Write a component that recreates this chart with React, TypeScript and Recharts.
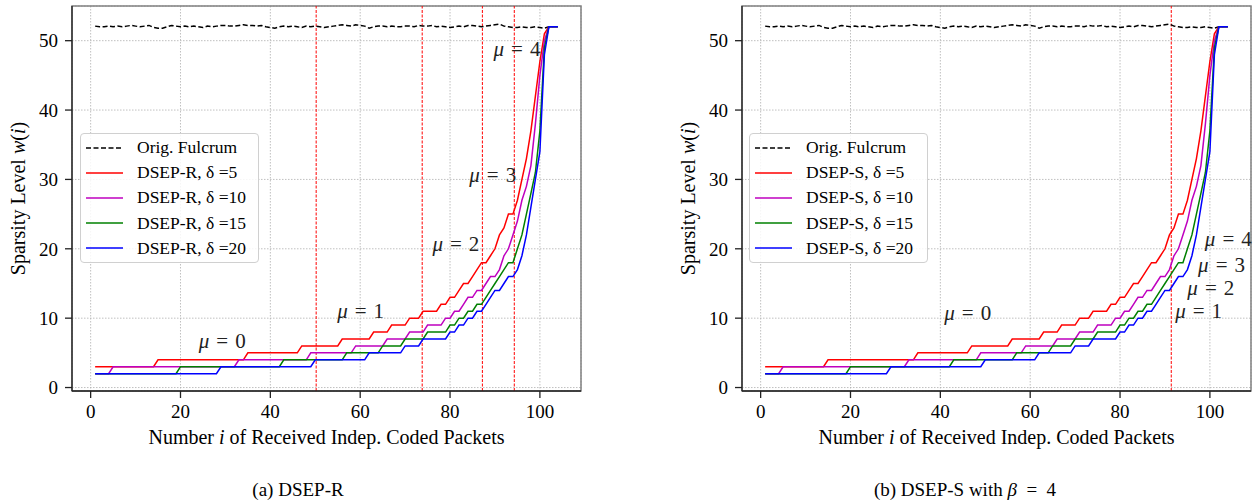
import React from 'react'
import {
  LineChart, Line, XAxis, YAxis, CartesianGrid, ReferenceLine, ReferenceArea,
  ReferenceDot, Legend, Label,
} from 'recharts'

const FONT = '"Liberation Serif", "Times New Roman", Times, serif'

// packet index i
const packets = [
  1, 2, 3, 4, 5, 6, 7, 8, 9, 10, 11, 12, 13, 14, 15, 16, 17, 18, 19, 20,
  21, 22, 23, 24, 25, 26, 27, 28, 29, 30, 31, 32, 33, 34, 35, 36, 37, 38, 39, 40,
  41, 42, 43, 44, 45, 46, 47, 48, 49, 50, 51, 52, 53, 54, 55, 56, 57, 58, 59, 60,
  61, 62, 63, 64, 65, 66, 67, 68, 69, 70, 71, 72, 73, 74, 75, 76, 77, 78, 79, 80,
  81, 82, 83, 84, 85, 86, 87, 88, 89, 90, 91, 92, 93, 94, 95, 96, 97, 98, 99, 100,
  101, 102, 103, 104,
]

// original fulcrum, sparsity stays near 52
const fulcrum = [
  52.1, 52.0, 52.0, 52.1, 52.0, 52.1, 52.0, 52.1, 52.2, 52.1,
  52.0, 52.1, 52.2, 51.9, 51.8, 51.8, 52.0, 52.2, 52.1, 52.0,
  52.1, 52.0, 52.1, 52.0, 51.9, 52.1, 52.0, 52.1, 52.2, 52.2,
  52.1, 52.1, 52.2, 52.3, 52.2, 52.2, 52.1, 52.2, 52.0, 51.9,
  51.8, 52.0, 52.1, 52.0, 52.1, 52.0, 51.9, 52.1, 52.0, 52.1,
  52.0, 51.9, 52.0, 52.1, 52.2, 52.3, 52.2, 52.1, 52.3, 52.2,
  52.1, 51.8, 52.0, 52.1, 52.1, 52.0, 52.1, 52.0, 52.0, 52.1,
  52.1, 52.0, 52.2, 52.1, 52.1, 52.2, 52.0, 52.1, 52.0, 51.9,
  52.0, 52.1, 52.0, 52.2, 52.2, 52.1, 52.0, 52.1, 52.2, 52.3,
  52.4, 52.1, 52.0, 51.9, 51.9, 52.0, 51.9, 51.9, 52.0, 51.9,
  51.8, 52.0, 52.0,
]

const delta5 = [
  3, 3, 3, 3, 3, 3, 3, 3, 3, 3,
  3, 3, 3, 3, 4, 4, 4, 4, 4, 4,
  4, 4, 4, 4, 4, 4, 4, 4, 4, 4,
  4, 4, 4, 4, 5, 5, 5, 5, 5, 5,
  5, 5, 5, 5, 5, 5, 6, 6, 6, 6,
  6, 6, 6, 6, 6, 7, 7, 7, 7, 7,
  7, 7, 8, 8, 8, 8, 9, 9, 9, 9,
  10, 10, 10, 11, 11, 11, 11, 12, 12, 13,
  13, 14, 15, 15, 16, 17, 18, 18, 19, 20,
  22, 23, 25, 25, 27, 30, 33, 37, 42, 47,
  51, 52, 52, 52,
]

const delta10 = [
  2, 2, 2, 2, 3, 3, 3, 3, 3, 3,
  3, 3, 3, 3, 3, 3, 3, 3, 3, 3,
  3, 3, 3, 3, 3, 3, 3, 3, 3, 3,
  3, 3, 4, 4, 4, 4, 4, 4, 4, 4,
  4, 4, 4, 4, 4, 4, 4, 4, 5, 5,
  5, 5, 5, 5, 5, 5, 5, 5, 6, 6,
  6, 6, 6, 6, 6, 7, 7, 7, 7, 7,
  8, 8, 8, 8, 9, 9, 9, 9, 10, 10,
  11, 11, 12, 13, 13, 14, 14, 15, 16, 16,
  17, 19, 20, 22, 24, 27, 29, 32, 38, 45,
  50, 52, 52, 52,
]

const delta15 = [
  2, 2, 2, 2, 2, 2, 2, 2, 2, 2,
  2, 2, 2, 2, 2, 2, 2, 2, 2, 3,
  3, 3, 3, 3, 3, 3, 3, 3, 3, 3,
  3, 3, 3, 3, 3, 3, 3, 3, 3, 3,
  3, 3, 4, 4, 4, 4, 4, 4, 4, 4,
  4, 4, 4, 4, 4, 4, 5, 5, 5, 5,
  5, 5, 5, 5, 6, 6, 6, 6, 6, 7,
  7, 7, 7, 7, 8, 8, 8, 8, 8, 9,
  9, 10, 10, 11, 11, 12, 12, 13, 14, 15,
  16, 17, 18, 18, 20, 22, 25, 28, 31, 37,
  49, 52, 52, 52,
]

const delta20 = [
  2, 2, 2, 2, 2, 2, 2, 2, 2, 2,
  2, 2, 2, 2, 2, 2, 2, 2, 2, 2,
  2, 2, 2, 2, 2, 2, 2, 2, 3, 3,
  3, 3, 3, 3, 3, 3, 3, 3, 3, 3,
  3, 3, 3, 3, 3, 3, 3, 3, 3, 4,
  4, 4, 4, 4, 4, 4, 4, 4, 4, 4,
  4, 5, 5, 5, 5, 5, 5, 5, 5, 6,
  6, 6, 6, 7, 7, 7, 7, 7, 7, 8,
  8, 9, 9, 10, 10, 11, 11, 12, 13, 14,
  14, 15, 16, 16, 17, 19, 22, 26, 30, 34,
  48, 52, 52, 52,
]

const xTicks = [0, 20, 40, 60, 80, 100]
const yTicks = [0, 10, 20, 30, 40, 50]

const deltas = [5, 10, 15, 20]
const deltaKeys = ['d5', 'd10', 'd15', 'd20']
const colors = ['#ff0000', '#bf00bf', '#008000', '#0000ff']
const legendOrder = ['fulcrum', 'd5', 'd10', 'd15', 'd20']

// where mu switches (vertical red dashed lines)
const switchesR = [50.2, 73.8, 87.2, 94.3]
const switchesS = [91.4]

// mu annotations: label, i, w
const muLabels = ['0', '1', '2', '3', '4']
const muR_i = [29.3, 60.1, 81.3, 89.5, 94.9]
const muR_w = [6.7, 11.0, 20.7, 30.6, 48.8]
const muS_i = [46.1, 97.5, 100.2, 102.6, 104.1]
const muS_w = [10.8, 11.1, 14.4, 17.7, 21.4]

const data = packets.map((i, k) => ({
  i,
  fulcrum: fulcrum[k],
  d5: delta5[k],
  d10: delta10[k],
  d15: delta15[k],
  d20: delta20[k],
}))

const X_DOMAIN = [-4.15, 109.15]
const Y_DOMAIN = [-0.5, 55]

function XTitle(props: any) {
  const { x, y, width, height } = props.viewBox
  return (
    <text x={x + width / 2} y={y + height - 6} textAnchor="middle" fontFamily={FONT} fontSize={20} fill="#000">
      Number <tspan fontStyle="italic">i</tspan> of Received Indep. Coded Packets
    </text>
  )
}

function YTitle(props: any) {
  const { y, height } = props.viewBox
  const cy = y + height / 2
  return (
    <text transform={`translate(25, ${cy}) rotate(-90)`} textAnchor="middle" fontFamily={FONT} fontSize={20} fill="#000">
      Sparsity Level <tspan fontStyle="italic">w</tspan>(<tspan fontStyle="italic">i</tspan>)
    </text>
  )
}

function MuText(props: any) {
  const { x, y } = props.viewBox
  return (
    <text x={x} y={y} textAnchor="middle" dominantBaseline="central" fontFamily={FONT} fontSize={21} fill="#222">
      <tspan fontStyle="italic">μ</tspan>{'\u2004=\u2004'}{props.text}
    </text>
  )
}

function LegendBox(props: any) {
  const items = [...(props.payload || [])].sort(
    (a: any, b: any) => legendOrder.indexOf(a.dataKey) - legendOrder.indexOf(b.dataKey),
  )
  return (
    <div style={{
      border: '1px solid #d0d0d0', borderRadius: 4, background: 'rgba(255,255,255,0.85)',
      padding: '1px 4px 1px 5px', fontFamily: FONT, fontSize: 17.5, color: '#000', width: 168,
    }}>
      {items.map((p: any) => (
        <div key={p.value} style={{ display: 'flex', alignItems: 'center', height: 25.2 }}>
          <svg width={37} height={10} style={{ marginRight: 14, flexShrink: 0 }}>
            <line x1={0} y1={5} x2={37} y2={5} stroke={p.color} strokeWidth={1.5}
              strokeDasharray={p.payload && p.payload.strokeDasharray} />
          </svg>
          <span style={{ whiteSpace: 'nowrap' }}>{p.value}</span>
        </div>
      ))}
    </div>
  )
}

const tickStyle = { fontFamily: FONT, fontSize: 19, fill: '#000' }

function Panel({ scheme, switches, muI, muW, width, marginRight, legendLeft }: any) {
  return (
    <LineChart width={width} height={450} data={data} margin={{ top: 6, right: marginRight, bottom: 0, left: 0 }}>
      <CartesianGrid stroke="#b0b0b0" strokeDasharray="1.5 1.5" strokeWidth={0.8} />
      <XAxis dataKey="i" type="number" domain={X_DOMAIN} ticks={xTicks} allowDataOverflow height={59}
        tickSize={7} tickMargin={7} tick={tickStyle}
        axisLine={{ stroke: '#222', strokeWidth: 1.3 }} tickLine={{ stroke: '#222', strokeWidth: 1.3 }}>
        <Label content={XTitle} />
      </XAxis>
      <YAxis type="number" domain={Y_DOMAIN} ticks={yTicks} allowDataOverflow width={72}
        tickSize={7} tickMargin={7} tick={tickStyle}
        axisLine={{ stroke: '#222', strokeWidth: 1.3 }} tickLine={{ stroke: '#222', strokeWidth: 1.3 }}>
        <Label content={YTitle} />
      </YAxis>
      <ReferenceArea x1={X_DOMAIN[0]} x2={X_DOMAIN[1]} y1={Y_DOMAIN[0]} y2={Y_DOMAIN[1]}
        fill="none" stroke="#808080" strokeWidth={1.5} ifOverflow="visible" />
      {switches.map((x: number) => (
        <ReferenceLine key={x} x={x} stroke="#ff0000" strokeDasharray="3 1.5" strokeWidth={1} />
      ))}
      <Line type="linear" dataKey="fulcrum" name="Orig. Fulcrum" stroke="#000" strokeWidth={1.5}
        strokeDasharray="5 2.5" dot={false} isAnimationActive={false} />
      {deltaKeys.map((k, n) => (
        <Line key={k} type="linear" dataKey={k} name={`${scheme}, δ =${deltas[n]}`} stroke={colors[n]}
          strokeWidth={1.5} dot={false} isAnimationActive={false} />
      ))}
      {muLabels.map((t, n) => (
        <ReferenceDot key={t} x={muI[n]} y={muW[n]} r={0} fill="none" stroke="none" ifOverflow="visible"
          label={(p: any) => <MuText {...p} text={t} />} />
      ))}
      <Legend layout="vertical" verticalAlign="middle" align="center"
        wrapperStyle={{ left: legendLeft, top: 133, width: 180 }} content={LegendBox} />
    </LineChart>
  )
}

const captionStyle: React.CSSProperties = {
  position: 'absolute', width: 300, top: 479, textAlign: 'center',
  fontFamily: FONT, fontSize: 19, color: '#000', whiteSpace: 'nowrap',
}

export default function App() {
  return (
    <div style={{ position: 'absolute', left: 0, top: 0, width: 1257, height: 504, overflow: 'hidden', background: '#fff' }}>
      <div style={{ position: 'absolute', left: 0, top: 0 }}>
        <Panel scheme="DSEP-R" switches={switchesR} muI={muR_i} muW={muR_w}
          width={600} marginRight={19} legendLeft={80} />
      </div>
      <div style={{ position: 'absolute', left: 670, top: 0 }}>
        <Panel scheme="DSEP-S" switches={switchesS} muI={muS_i} muW={muS_w}
          width={587} marginRight={6} legendLeft={79} />
      </div>
      <div style={{ ...captionStyle, left: 148 }}>(a) DSEP-R</div>
      <div style={{ ...captionStyle, left: 815 }}>
        (b) DSEP-S with <i>β</i>{'\u2002=\u2002'}4
      </div>
    </div>
  )
}
